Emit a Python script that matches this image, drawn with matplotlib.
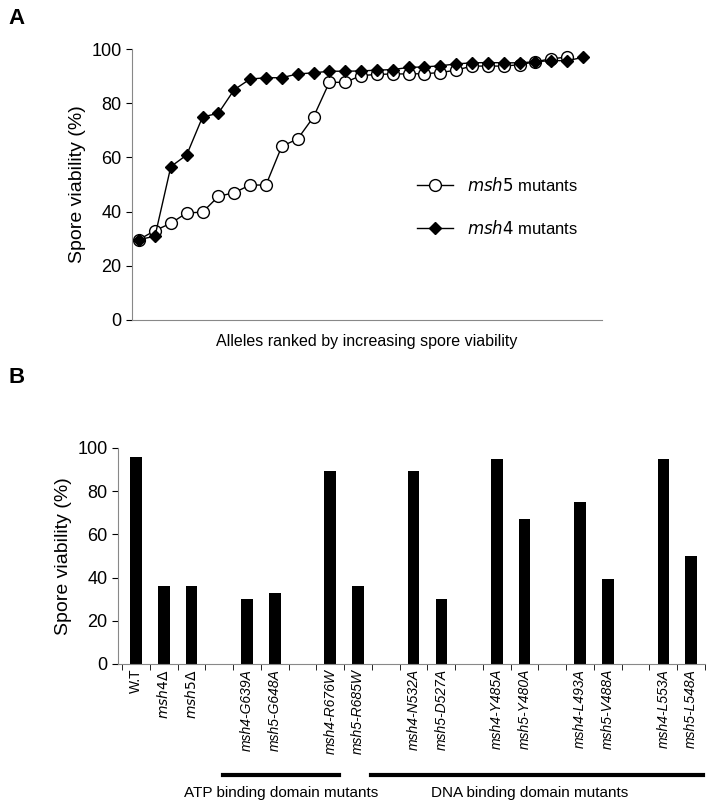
import matplotlib
matplotlib.use("Agg")
import matplotlib.pyplot as plt
import numpy as np

# Panel A: ranked spore viability
msh5_vals = [29.7, 33, 35.7, 39.5, 39.8, 45.6, 47, 49.8, 49.8, 64.1, 66.8, 74.9, 87.7, 87.7,
             90.2, 90.6, 90.8, 90.8, 90.9, 91.3, 92.2, 93.7, 93.7, 93.7, 94.2, 95.3, 96.4, 97]
msh4_vals = [29.7, 30.9, 56.6, 60.9, 74.9, 76.3, 85, 88.9, 89.4, 89.4, 90.8, 91.2, 91.8, 91.8,
             91.9, 92.2, 92.4, 93.2, 93.4, 93.8, 94.5, 94.9, 95, 94.9, 94.9, 95.3, 95.7, 95.7, 96.9]

# Panel B: individual alleles (None = empty slot)
labels = ["W.T", r"$msh4\Delta$", r"$msh5\Delta$", "",
          "msh4-G639A", "msh5-G648A", "", "msh4-R676W", "msh5-R685W", "",
          "msh4-N532A", "msh5-D527A", "", "msh4-Y485A", "msh5-Y480A", "",
          "msh4-L493A", "msh5-V488A", "", "msh4-L553A", "msh5-L548A"]
values = [96, 36, 36, None, 30, 33, None, 89.5, 36, None, 89.5, 30, None, 95, 67, None,
          75, 39.5, None, 95, 50]

plt.rcParams["font.family"] = ["Liberation Sans", "DejaVu Sans"]
fig = plt.figure(figsize=(7.08, 8.0), dpi=100)

# ---- A ----
ax = fig.add_axes([132 / 708, 1 - 320 / 800, 470 / 708, 271 / 800])
ax.plot(range(len(msh5_vals)), msh5_vals, "-o", color="black", mfc="white", mec="black",
        ms=8.5, lw=1, label="$msh5$ mutants")
ax.plot(range(len(msh4_vals)), msh4_vals, "-D", color="black", ms=6.5, lw=1, label="$msh4$ mutants")
ax.set_ylim(0, 100)
ax.set_xlim(-0.45, 29.2)
ax.set_yticks(range(0, 101, 20))
ax.set_xticks([])
ax.tick_params(axis="y", labelsize=13, direction="out", length=4)
ax.spines[["top", "right"]].set_visible(False)
for s in ax.spines.values():
    s.set_color("#888888")
ax.set_ylabel("Spore viability (%)", fontsize=14)
ax.set_xlabel("Alleles ranked by increasing spore viability", fontsize=11.5, labelpad=10)
ax.legend(loc="center right", bbox_to_anchor=(0.98, 0.42), frameon=False, fontsize=12,
          handlelength=2.2, labelspacing=1.5)
fig.text(8 / 708, 1 - 18 / 800, "A", fontsize=16, fontweight="bold", va="center")

# ---- B ----
bx = fig.add_axes([118 / 708, 1 - 664 / 800, 587 / 708, 216 / 800])
xs = np.arange(len(labels))
for x, v in zip(xs, values):
    if v is not None:
        bx.bar(x, v, width=0.42, color="black")
bx.set_xlim(-0.65, len(labels) - 0.55)
bx.set_ylim(0, 100)
bx.set_yticks(range(0, 101, 20))
bx.tick_params(axis="y", labelsize=13, direction="out", length=4)
bx.set_xticks(xs)
bx.set_xticklabels(labels, rotation=90, fontsize=10)
for t, l in zip(bx.get_xticklabels(), labels):
    if l.startswith("msh"):
        t.set_fontstyle("italic")
bx.tick_params(axis="x", length=0)
bx.set_xticks(np.arange(-0.5, len(labels), 1), minor=True)
bx.tick_params(axis="x", which="minor", length=4, direction="out")
bx.spines[["top", "right"]].set_visible(False)
for s in bx.spines.values():
    s.set_color("#888888")
bx.set_ylabel("Spore viability (%)", fontsize=14)
fig.text(8 / 708, 1 - 378 / 800, "B", fontsize=16, fontweight="bold", va="center")

# group bars under the labels
fig.add_artist(plt.Line2D([223 / 708, 339 / 708], [1 - 775 / 800] * 2, color="black", lw=3))
fig.add_artist(plt.Line2D([371 / 708, 703 / 708], [1 - 775 / 800] * 2, color="black", lw=3))
fig.text(281 / 708, 1 - 793 / 800, "ATP binding domain mutants", fontsize=11, ha="center", va="center")
fig.text(530 / 708, 1 - 793 / 800, "DNA binding domain mutants", fontsize=11, ha="center", va="center")

fig.savefig("out.png", dpi=100)
